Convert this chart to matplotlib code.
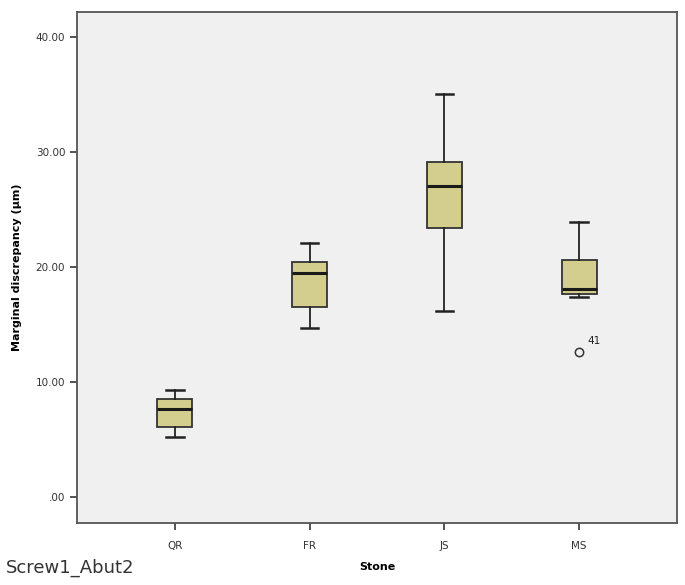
import matplotlib
matplotlib.use('Agg')
import matplotlib.pyplot as plt

# values
stones = ['QR', 'FR', 'JS', 'MS']
whisker_low = [5.2, 14.7, 16.2, 17.4]
q1 = [6.1, 16.5, 23.4, 17.65]
median = [7.65, 19.5, 27.0, 18.1]
q3 = [8.5, 20.4, 29.1, 20.6]
whisker_high = [9.3, 22.1, 35.0, 23.9]
outliers = [[], [], [], [12.6]]
outlier_ids = [[], [], [], ['41']]
yticks = [0, 10, 20, 30, 40]
ytick_labels = ['.00', '10.00', '20.00', '30.00', '40.00']

stats = []
for i, s in enumerate(stones):
    stats.append({'label': s, 'whislo': whisker_low[i], 'q1': q1[i], 'med': median[i],
                  'q3': q3[i], 'whishi': whisker_high[i], 'fliers': outliers[i]})

fig = plt.figure(figsize=(6.85, 5.85), dpi=100)
ax = fig.add_axes([77/685, 1-523/585, 600/685, 511/585])
ax.set_facecolor('#f0f0f0')

ax.bxp(stats, positions=range(len(stones)), widths=0.26, patch_artist=True,
       boxprops=dict(facecolor='#d3cd8e', edgecolor='#333333', linewidth=1.3),
       medianprops=dict(color='#1a1a1a', linewidth=2.2),
       whiskerprops=dict(color='#222222', linewidth=1.3),
       capprops=dict(color='#222222', linewidth=1.8),
       capwidths=0.13,
       flierprops=dict(marker='o', markerfacecolor='none', markeredgecolor='#333333',
                       markersize=6, markeredgewidth=1.1))

for i, ids in enumerate(outlier_ids):
    for v, lab in zip(outliers[i], ids):
        ax.annotate(lab, (i, v), xytext=(6, 6), textcoords='offset points',
                    fontsize=7.5, color='#222222')

ax.set_xlim(-0.726, 3.726)
ax.set_ylim(-2.26, 42.17)
ax.set_yticks(yticks)
ax.set_yticklabels(ytick_labels)
ax.set_xticks(range(len(stones)))
ax.set_xticklabels(stones)
ax.tick_params(axis='both', direction='out', length=5, width=1.3, color='#444444',
               labelsize=7.5, labelcolor='#333333')
ax.tick_params(axis='x', pad=8)
for sp in ax.spines.values():
    sp.set_color('#555555')
    sp.set_linewidth(1.3)

ax.set_ylabel('Marginal discrepancy (µm)', fontsize=8, fontweight='bold', labelpad=10)
ax.set_xlabel('Stone', fontsize=8, fontweight='bold', labelpad=8)
fig.text(6/685, 1-568/585, 'Screw1_Abut2', fontsize=13, color='#333333', va='center')

fig.savefig('out.png', dpi=100)
